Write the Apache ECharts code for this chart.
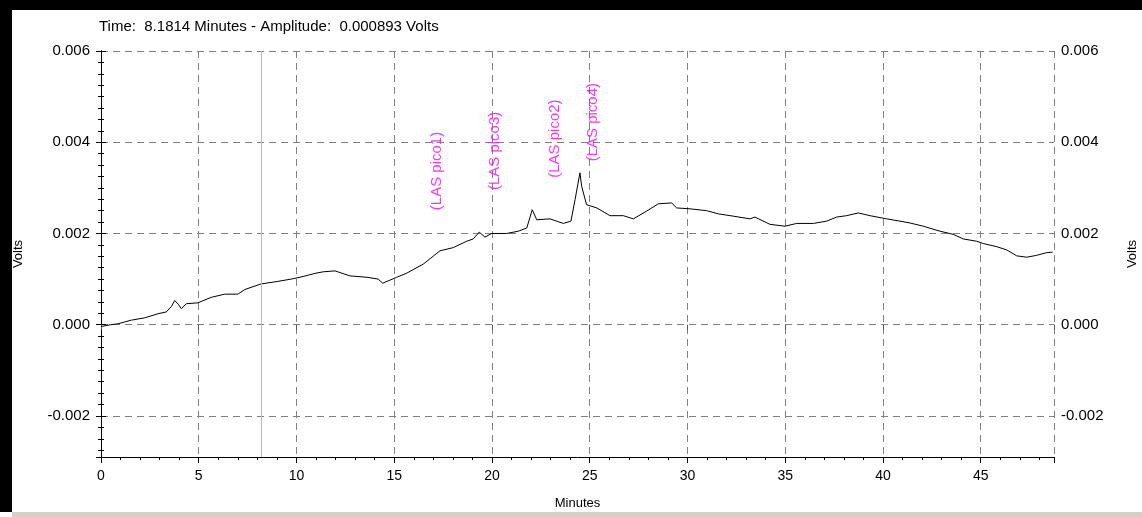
<!DOCTYPE html>
<html>
<head>
<meta charset="utf-8">
<title>Volts vs Minutes</title>
<script src="https://cdn.jsdelivr.net/npm/echarts@6/dist/echarts.min.js"></script>
<style>
	html, body {
		margin: 0;
		padding: 0;
		background: #fff;
	}
	#chart {
		width: 1142px;
		height: 517px;
	}
</style>
</head>
<body>
<div id="chart"></div>
<script>
	// trace (minutes / volts)
	const times = [0, 0.5, 0.87, 1.55, 2.23, 2.92, 3.34, 3.6, 3.77, 3.95, 4.11, 4.37, 4.96, 5.64, 6.33, 7.0, 7.35,
		8.18, 9.05, 9.73, 10.18, 11.0, 11.37, 11.97, 12.74, 13.6, 14.18, 14.41, 15.13, 15.64, 16.49, 17.34,
		18.02, 18.71, 19.04, 19.35, 19.64, 19.98, 20.75, 21.35, 21.78, 22.06, 22.29, 22.97, 23.65, 24.04,
		24.25, 24.5, 24.59, 24.84, 25.36, 26.04, 26.72, 27.23, 27.91, 28.51, 29.19, 29.45, 30.13, 30.98,
		31.58, 32.34, 33.2, 33.45, 34.22, 34.99, 35.59, 36.44, 37.12, 37.63, 38.14, 38.74, 39.34, 40.19,
		40.87, 41.38, 42.06, 42.92, 43.6, 44.11, 44.79, 45.13, 45.82, 46.33, 46.84, 47.35, 47.86, 48.37, 48.68];
	const volts = [-0.00004, 0.0, 0.00002, 0.0001, 0.00015, 0.00024, 0.00028, 0.0004, 0.00053, 0.00045, 0.00035,
		0.00046, 0.00048, 0.0006, 0.00067, 0.00067, 0.00077, 0.000893, 0.00095, 0.001, 0.00104, 0.00113,
		0.00116, 0.00118, 0.00107, 0.00104, 0.001, 0.00091, 0.00104, 0.00113, 0.00133, 0.00162, 0.00169,
		0.00183, 0.00188, 0.00203, 0.00192, 0.002, 0.002, 0.00205, 0.00212, 0.00252, 0.0023, 0.00232,
		0.00222, 0.00227, 0.00274, 0.00333, 0.00303, 0.00263, 0.00256, 0.00239, 0.00239, 0.00232, 0.00249,
		0.00265, 0.00267, 0.00256, 0.00254, 0.0025, 0.00243, 0.00238, 0.00232, 0.00236, 0.0022, 0.00216,
		0.00222, 0.00222, 0.00227, 0.00236, 0.00239, 0.00245, 0.00239, 0.00232, 0.00227, 0.00223, 0.00216,
		0.00205, 0.00198, 0.00188, 0.00183, 0.00178, 0.00171, 0.00164, 0.00151, 0.00148, 0.00152, 0.00158,
		0.00159];

	// peak labels (centre of the rotated text)
	const peakNames = ['(LAS pico1)', '(LAS pico3)', '(LAS pico2)', '(LAS pico4)'];
	const peakTimes = [17.19, 20.15, 23.22, 25.17];
	const peakVolts = [0.00337, 0.00381, 0.00408, 0.00444];

	const cursorTime = 8.1814;
	const cursorAmp = 0.000893;

	const xMin = 0, xMax = 48.75, xStep = 5;
	const yMin = -0.0029, yMax = 0.006;

	const fontFam = '"Liberation Sans", Arial, sans-serif';
	const gridDash = { color: '#808080', type: [7, 5], width: 1 };

	let lineData = times.map((t, i) => [t, volts[i]]);
	let peakData = peakNames.map((n, i) => ({ name: n, value: [peakTimes[i], peakVolts[i]] }));

	function voltAxis(pos, gap, margin) {
		return {
			type: 'value',
			position: pos,
			min: yMin,
			max: yMax,
			splitNumber: 5,
			name: 'Volts',
			nameLocation: 'middle',
			nameGap: gap,
			nameTextStyle: { color: '#000', fontSize: 13, fontFamily: fontFam },
			axisLine: { show: true, lineStyle: { color: '#000', width: 1 } },
			axisTick: { show: true, length: 5, lineStyle: { color: '#000' } },
			minorTick: { show: true, splitNumber: 8, length: 3, lineStyle: { color: '#000' } },
			axisLabel: {
				showMinLabel: false,
				margin: margin,
				color: '#000',
				fontSize: 15,
				fontFamily: fontFam,
				formatter: v => v.toFixed(3)
			},
			splitLine: { show: pos === 'left', lineStyle: gridDash }
		};
	}

	let option = {
		animation: false,
		backgroundColor: '#fff',
		textStyle: { fontFamily: fontFam },
		title: {
			text: 'Time:  ' + cursorTime + ' Minutes - Amplitude:  ' + cursorAmp.toFixed(6) + ' Volts',
			left: 99,
			top: 19,
			padding: 0,
			textStyle: { color: '#000', fontSize: 15, fontWeight: 'normal', fontFamily: fontFam }
		},
		grid: {
			left: 101,
			right: 88,
			top: 51,
			bottom: 60,
			outerBoundsMode: 'none'
		},
		xAxis: [{
			type: 'value',
			position: 'bottom',
			min: xMin,
			max: xMax,
			interval: xStep,
			name: 'Minutes',
			nameLocation: 'middle',
			nameGap: 40,
			nameTextStyle: { color: '#000', fontSize: 13, fontFamily: fontFam },
			axisLine: { show: true, onZero: false, lineStyle: { color: '#000', width: 1 } },
			axisTick: { show: true, length: 6, lineStyle: { color: '#000' } },
			minorTick: { show: true, splitNumber: 5, length: 3, lineStyle: { color: '#000' } },
			axisLabel: { showMaxLabel: false, margin: 12, color: '#000', fontSize: 14, fontFamily: fontFam },
			splitLine: { show: true, lineStyle: gridDash }
		}, {
			type: 'value',
			position: 'top',
			min: xMin,
			max: xMax,
			interval: xStep,
			axisLine: { show: false },
			axisTick: { show: true, inside: true, length: 5, lineStyle: { color: '#555' } },
			axisLabel: { show: false },
			splitLine: { show: false }
		}],
		yAxis: [voltAxis('left', 76, 11), voltAxis('right', 72, 7)],
		series: [{
			name: 'signal',
			type: 'line',
			data: lineData,
			showSymbol: false,
			symbol: 'none',
			lineStyle: { color: '#000', width: 1 },
			z: 3,
			markLine: {
				silent: true,
				symbol: 'none',
				label: { show: false },
				lineStyle: { color: '#b8b8b8', type: 'solid', width: 1 },
				data: [{ xAxis: cursorTime }]
			}
		}, {
			name: 'peaks',
			type: 'scatter',
			data: peakData,
			symbolSize: 1,
			itemStyle: { color: 'rgba(0,0,0,0)' },
			label: {
				show: true,
				position: 'inside',
				rotate: 90,
				color: '#ff00ff',
				fontSize: 15,
				fontFamily: fontFam,
				formatter: p => p.name
			},
			z: 4
		}],
		graphic: [
			// window frame
			{ type: 'rect', left: 0, top: 0, shape: { width: 1142, height: 10 }, style: { fill: '#000' } },
			{ type: 'rect', left: 0, top: 0, shape: { width: 12, height: 512 }, style: { fill: '#000' } },
			{ type: 'rect', left: 12, top: 512, shape: { width: 1130, height: 5 }, style: { fill: '#d4d0c8' } }
		]
	};

	let chart = echarts.init(document.getElementById('chart'), null, { renderer: 'canvas' });
	chart.setOption(option);
</script>
</body>
</html>
